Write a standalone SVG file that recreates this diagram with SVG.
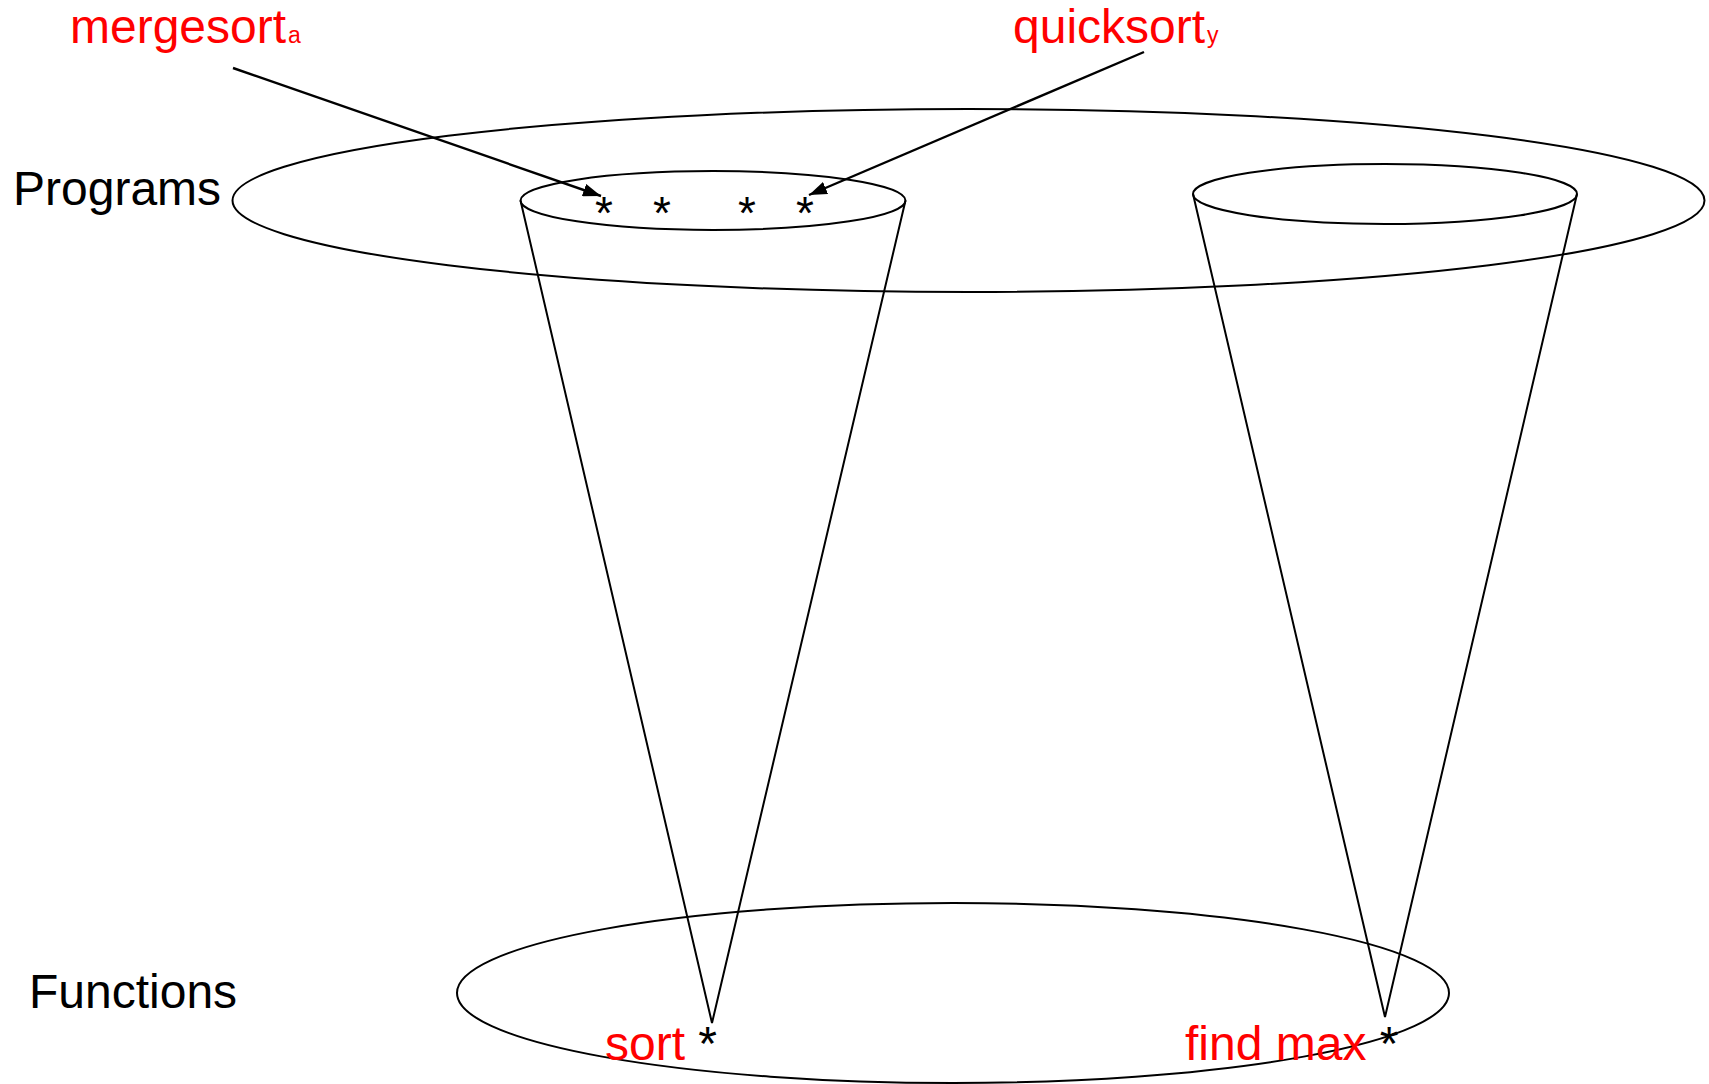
<svg xmlns="http://www.w3.org/2000/svg" width="1709" height="1084" viewBox="0 0 1709 1084">
<defs>
<marker id="ah" markerWidth="18" markerHeight="13" refX="18" refY="6.5" orient="auto" markerUnits="userSpaceOnUse" viewBox="0 0 18 13">
<path d="M0,0 L18,6.5 L0,13 z" fill="#000"/>
</marker>
<style>
.sh{fill:none;stroke:#000;stroke-width:2}
.lbl{font-family:"Liberation Sans",Arial,sans-serif;font-size:48px;fill:#000}
.red{fill:#FF0000}
.ast{font-family:"Liberation Sans",Arial,sans-serif;font-size:46px;fill:#000;text-anchor:middle}
.conn{fill:none;stroke:#000;stroke-width:2.4}
</style>
</defs>
<rect width="1709" height="1084" fill="#fff"/>
<g id="programs">
<ellipse class="sh" cx="968.5" cy="200.5" rx="736" ry="91.5"/>
<text class="lbl" x="13" y="205">Programs</text>
</g>
<g id="functions">
<ellipse class="sh" cx="953" cy="993" rx="496" ry="90"/>
<text class="lbl" x="29" y="1008">Functions</text>
</g>
<g id="cone-sort">
<ellipse class="sh" cx="713" cy="200.5" rx="192.5" ry="29.5"/>
<path class="sh" d="M520.5,200.5 L712,1023 L905.5,200.5"/>
<text class="ast" x="604" y="229">*</text>
<text class="ast" x="662" y="229">*</text>
<text class="ast" x="747" y="229">*</text>
<text class="ast" x="805" y="229">*</text>
<text class="lbl red" x="605" y="1060">sort <tspan fill="#000">*</tspan></text>
</g>
<g id="cone-findmax">
<ellipse class="sh" cx="1385" cy="194" rx="192" ry="30"/>
<path class="sh" d="M1193,194 L1385,1017 L1577,194"/>
<text class="lbl red" x="1185" y="1060">find max <tspan fill="#000">*</tspan></text>
</g>
<g id="label-mergesort">
<text class="lbl red" x="70" y="43">mergesort<tspan font-size="23" dx="2">a</tspan></text>
</g>
<g id="label-quicksort">
<text class="lbl red" x="1013" y="43">quicksort<tspan font-size="23" dx="2">y</tspan></text>
</g>
<g id="connectors">
<line class="conn" x1="233" y1="68" x2="601" y2="196" marker-end="url(#ah)"/>
<line class="conn" x1="1144" y1="52" x2="809" y2="195" marker-end="url(#ah)"/>
</g>
</svg>
